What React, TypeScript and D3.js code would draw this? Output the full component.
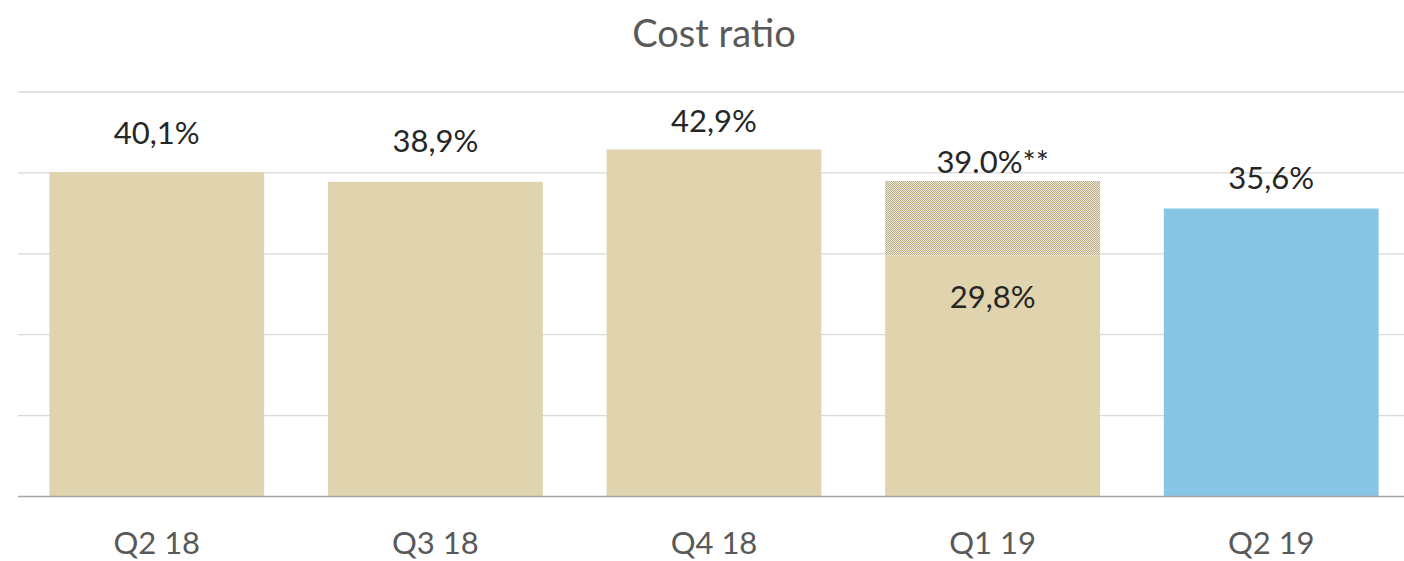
import * as d3 from 'd3'
import { useEffect, useRef } from 'react'

const quarters = ['Q2 18', 'Q3 18', 'Q4 18', 'Q1 19', 'Q2 19']
const costRatio = [40.1, 38.9, 42.9, 29.8, 35.6]
const oneOffCost = [0, 0, 0, 9.2, 0]
const topLabels = ['40,1%', '38,9%', '42,9%', '39.0%**', '35,6%']
const innerLabels = ['', '', '', '29,8%', '']
const gridTicks = [0, 10, 20, 30, 40, 50]

const W = 1404
const H = 561
const PLOT = { left: 18, right: 1410, top: 92, bottom: 496.5 }
// labels were nudged by hand in the original deck
const LABEL_LIFT = [28, 30, 17, 8, 19]
const FONT = 'Lato, "Open Sans", sans-serif'

export default function App() {
  const svgRef = useRef<SVGSVGElement>(null)

  useEffect(() => {
    const svgEl = svgRef.current
    if (!svgEl) return
    const svg = d3.select(svgEl)
    svg.selectAll('*').remove()

    const x = d3
      .scaleBand<string>()
      .domain(quarters)
      .range([PLOT.left, PLOT.right])
      .paddingInner(0.229)
      .paddingOuter(0.1125)
    const y = d3.scaleLinear().domain([0, 50]).range([PLOT.bottom, PLOT.top])

    const pat = svg
      .append('defs')
      .append('pattern')
      .attr('id', 'checker')
      .attr('width', 2)
      .attr('height', 2)
      .attr('patternUnits', 'userSpaceOnUse')
    pat.append('rect').attr('width', 2).attr('height', 2).attr('fill', '#efe9d8')
    pat.append('rect').attr('width', 1).attr('height', 1).attr('fill', '#b9ac82')
    pat.append('rect').attr('x', 1).attr('y', 1).attr('width', 1).attr('height', 1).attr('fill', '#b9ac82')

    svg
      .append('text')
      .attr('x', (PLOT.left + PLOT.right) / 2)
      .attr('y', 46.5)
      .attr('text-anchor', 'middle')
      .attr('font-family', FONT)
      .attr('font-size', 38)
      .attr('fill', '#595959')
      .text('Cost ratio')

    svg
      .append('g')
      .selectAll('line')
      .data(gridTicks.slice(1))
      .join('line')
      .attr('x1', PLOT.left)
      .attr('x2', PLOT.right)
      .attr('y1', (d) => y(d))
      .attr('y2', (d) => y(d))
      .attr('stroke', '#d9d9d9')
      .attr('stroke-width', 1.3)

    const bars = svg.append('g')
    bars
      .selectAll('rect.base')
      .data(quarters)
      .join('rect')
      .attr('class', 'base')
      .attr('x', (d) => x(d)!)
      .attr('width', x.bandwidth())
      .attr('y', (_, i) => y(costRatio[i]))
      .attr('height', (_, i) => y(0) - y(costRatio[i]))
      .attr('fill', (_, i) => (i === quarters.length - 1 ? '#86c5e3' : '#e0d4ae'))

    bars
      .selectAll('rect.extra')
      .data(quarters.filter((_, i) => oneOffCost[i] > 0))
      .join('rect')
      .attr('class', 'extra')
      .attr('x', (d) => x(d)!)
      .attr('width', x.bandwidth())
      .attr('y', (d) => {
        const i = quarters.indexOf(d)
        return y(costRatio[i] + oneOffCost[i])
      })
      .attr('height', (d) => {
        const i = quarters.indexOf(d)
        return y(costRatio[i]) - y(costRatio[i] + oneOffCost[i])
      })
      .attr('fill', 'url(#checker)')

    svg
      .append('line')
      .attr('x1', PLOT.left)
      .attr('x2', PLOT.right)
      .attr('y1', y(0))
      .attr('y2', y(0))
      .attr('stroke', '#a6a6a6')
      .attr('stroke-width', 1.4)

    const labels = svg.append('g').attr('font-family', FONT).attr('font-size', 31).attr('text-anchor', 'middle')
    labels
      .selectAll('text.top')
      .data(quarters)
      .join('text')
      .attr('class', 'top')
      .attr('x', (d) => x(d)! + x.bandwidth() / 2)
      .attr('y', (_, i) => y(costRatio[i] + oneOffCost[i]) - LABEL_LIFT[i])
      .attr('fill', '#262626')
      .text((_, i) => topLabels[i])

    labels
      .selectAll('text.inner')
      .data(quarters.filter((_, i) => innerLabels[i]))
      .join('text')
      .attr('class', 'inner')
      .attr('x', (d) => x(d)! + x.bandwidth() / 2)
      .attr('y', (d) => y(costRatio[quarters.indexOf(d)]) + 53)
      .attr('fill', '#262626')
      .text((d) => innerLabels[quarters.indexOf(d)])

    const xAxis = d3.axisBottom(x).tickSize(0).tickPadding(0)
    const gx = svg.append('g').attr('transform', `translate(0,${y(0)})`).call(xAxis)
    gx.select('.domain').remove()
    gx.selectAll('text')
      .attr('dy', null)
      .attr('y', 57.5)
      .attr('font-family', FONT)
      .attr('font-size', 31)
      .attr('fill', '#595959')
  }, [])

  return (
    <svg
      ref={svgRef}
      width={W}
      height={H}
      style={{ position: 'absolute', left: 0, top: 0, background: '#fff' }}
    />
  )
}
